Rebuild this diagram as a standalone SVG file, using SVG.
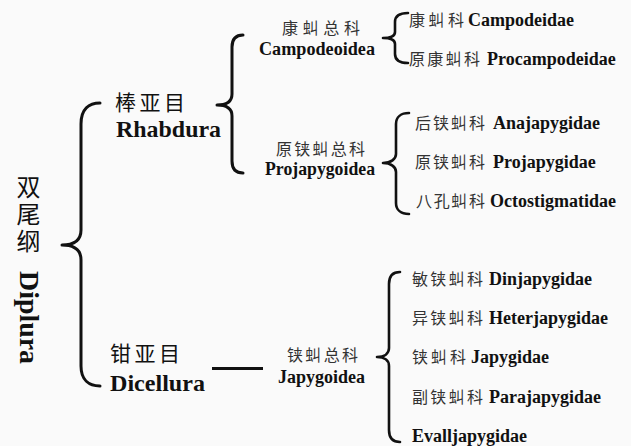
<svg xmlns="http://www.w3.org/2000/svg" width="631" height="446" viewBox="0 0 631 446">
<style>
.bg{fill:#fafafa}
.br{fill:none;stroke:#111;stroke-width:3;stroke-linecap:round;stroke-linejoin:round}
.brs{fill:none;stroke:#111;stroke-width:2.6;stroke-linecap:round;stroke-linejoin:round}
.lat{font-family:"Liberation Serif","Times New Roman",serif;font-weight:bold;fill:#111}
.cjk{font-family:"Noto Sans CJK SC","Noto Sans",sans-serif;fill:#333}
.cjkb{font-family:"Noto Sans CJK SC","Noto Sans",sans-serif;fill:#111}
.l18{font-size:18px}
.c15{font-size:16px}
</style>
<rect class="bg" x="0" y="0" width="631" height="446"/>

<g id="connectors">
  <!-- Diplura brace -->
  <path class="br" d="M100,103 C89,103 81,109 81,124 L81,230 C81,240 74,245 62,245 C74,245 81,250 81,260 L81,366 C81,380 89,386 100,386"/>
  <!-- Rhabdura brace -->
  <path class="br" d="M243,35 C236,35 232,39 232,47 L232,94 C232,101 227,105 217,105 C227,105 232,109 232,116 L232,161 C232,169 236,173 243,173"/>
  <!-- Campodeoidea brace -->
  <path class="brs" d="M408,13 C400,13 395,16 395,22 L395,32 C395,36 391,38 383,38 C391,38 395,40 395,44 L395,54 C395,60 400,63 408,63"/>
  <!-- Projapygoidea brace -->
  <path class="brs" d="M409,113 C401,113 396,117 396,124 L396,154 C396,159 391,163 383,163 C391,163 396,167 396,172 L396,203 C396,210 401,214 409,214"/>
  <!-- Japygoidea brace -->
  <path class="brs" d="M400,272 C393,272 389,276 389,284 L389,348 C389,353 385,357 377,357 C385,357 389,361 389,366 L389,430 C389,438 393,442 400,442"/>
  <!-- Dicellura line -->
  <line x1="212" y1="368.5" x2="263" y2="368.5" stroke="#111" stroke-width="3"/>
</g>

<g id="diplura">
  <text class="cjkb" font-size="24" writing-mode="vertical-rl" letter-spacing="3" x="28.5" y="175">双尾纲</text>
  <text class="lat" font-size="28" transform="translate(20,271) rotate(90)" x="0" y="0" textLength="93" lengthAdjust="spacingAndGlyphs">Diplura</text>
</g>

<g id="rhabdura">
  <text class="cjkb" font-size="21" x="115" y="110" textLength="70" lengthAdjust="spacing">棒亚目</text>
  <text class="lat" font-size="24" x="116" y="137" textLength="105" lengthAdjust="spacingAndGlyphs">Rhabdura</text>
</g>

<g id="dicellura">
  <text class="cjkb" font-size="21" x="110" y="361" textLength="70" lengthAdjust="spacing">钳亚目</text>
  <text class="lat" font-size="24" x="110" y="391" textLength="95" lengthAdjust="spacingAndGlyphs">Dicellura</text>
</g>

<g id="campodeoidea">
  <text class="cjk c15" x="282" y="33.5" textLength="78" lengthAdjust="spacing">康虯总科</text>
  <text class="lat l18" x="259" y="55" textLength="116" lengthAdjust="spacingAndGlyphs">Campodeoidea</text>
</g>

<g id="projapygoidea">
  <text class="cjk c15" x="276" y="155" textLength="89" lengthAdjust="spacing">原铗虯总科</text>
  <text class="lat l18" x="265" y="175" textLength="110" lengthAdjust="spacingAndGlyphs">Projapygoidea</text>
</g>

<g id="japygoidea">
  <text class="cjk c15" x="287" y="361" textLength="71" lengthAdjust="spacing">铗虯总科</text>
  <text class="lat l18" x="278" y="383" textLength="87" lengthAdjust="spacingAndGlyphs">Japygoidea</text>
</g>

<g id="campodeidae">
  <text class="cjk c15" x="409" y="25.5" textLength="55" lengthAdjust="spacing">康虯科</text>
  <text class="lat l18" x="468" y="25.5">Campodeidae</text>
</g>
<g id="procampodeidae">
  <text class="cjk c15" x="409" y="65" textLength="71" lengthAdjust="spacing">原康虯科</text>
  <text class="lat l18" x="487" y="65">Procampodeidae</text>
</g>

<g id="anajapygidae">
  <text class="cjk c15" x="415" y="129" textLength="70" lengthAdjust="spacing">后铗虯科</text>
  <text class="lat l18" x="493" y="129">Anajapygidae</text>
</g>
<g id="projapygidae">
  <text class="cjk c15" x="415" y="168" textLength="70" lengthAdjust="spacing">原铗虯科</text>
  <text class="lat l18" x="493" y="168">Projapygidae</text>
</g>
<g id="octostigmatidae">
  <text class="cjk c15" x="416" y="207" textLength="69" lengthAdjust="spacing">八孔虯科</text>
  <text class="lat l18" x="490" y="207">Octostigmatidae</text>
</g>

<g id="dinjapygidae">
  <text class="cjk c15" x="412" y="285" textLength="71" lengthAdjust="spacing">敏铗虯科</text>
  <text class="lat l18" x="489" y="285">Dinjapygidae</text>
</g>
<g id="heterjapygidae">
  <text class="cjk c15" x="412" y="324" textLength="71" lengthAdjust="spacing">异铗虯科</text>
  <text class="lat l18" x="489" y="324">Heterjapygidae</text>
</g>
<g id="japygidae">
  <text class="cjk c15" x="412" y="363" textLength="54" lengthAdjust="spacing">铗虯科</text>
  <text class="lat l18" x="471" y="363">Japygidae</text>
</g>
<g id="parajapygidae">
  <text class="cjk c15" x="412" y="403" textLength="71" lengthAdjust="spacing">副铗虯科</text>
  <text class="lat l18" x="489" y="403">Parajapygidae</text>
</g>
<g id="evalljapygidae">
  <text class="lat l18" x="412" y="442">Evalljapygidae</text>
</g>
</svg>
